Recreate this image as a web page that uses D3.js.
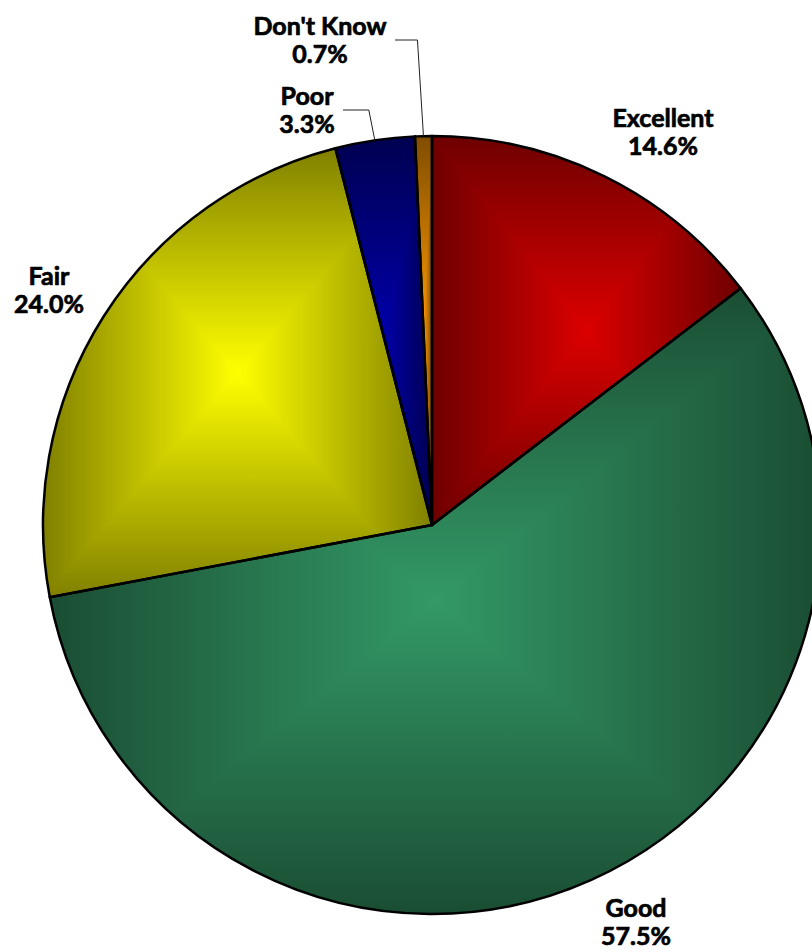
<!DOCTYPE html>
<html>
<head>
<meta charset="utf-8">
<script src="https://cdn.jsdelivr.net/npm/d3@7"></script>
<style>
  html, body { margin: 0; padding: 0; background: #ffffff; }
  svg { display: block; }
  .lbl { font-family: Lato, "Open Sans", sans-serif; font-weight: 700; font-size: 25px; fill: #000; stroke: #000; stroke-width: 0.7px; }
</style>
</head>
<body>
<svg id="chart" width="812" height="952"></svg>
<script>
// Survey answers and their shares (percent)
const categories = ["Excellent", "Good", "Fair", "Poor", "Don't Know"];
const shares = [14.6, 57.5, 24.0, 3.3, 0.7];

// Slice palette: bright centre colour and darker edge colour
const brightColors = ["#dc0000", "#339966", "#ffff00", "#0000a8", "#ff9900"];
const darkColors   = ["#6e0000", "#1a4d33", "#808000", "#000050", "#804d00"];

// Label placement (text centre x, first baseline y) and optional leader line
const labelLayout = {
  "Excellent":  { x: 663, y: 127 },
  "Good":       { x: 636, y: 917 },
  "Fair":       { x: 49,  y: 285 },
  "Poor":       { x: 307, y: 105, leader: { x: 343, y: 110 } },
  "Don't Know": { x: 320, y: 35,  leader: { x: 395, y: 40 } }
};

const W = 812, H = 952;
const cx = 432, cy = 525, R = 389;

const svg = d3.select("#chart");
const defs = svg.append("defs");
const root = svg.append("g").attr("transform", `translate(${cx},${cy})`);

const data = categories.map((c, i) => ({ name: c, value: shares[i], i }));
const pie = d3.pie().value(d => d.value).sort(null).startAngle(0).endAngle(2 * Math.PI);
const arcs = pie(data);
const arc = d3.arc().innerRadius(0).outerRadius(R);
const rimPoint = d3.arc().innerRadius(R).outerRadius(R);

// Bounding box of a pie slice (relative to the centre)
function sliceBox(a0, a1) {
  const pts = [[0, 0]];
  const p = a => [R * Math.sin(a), -R * Math.cos(a)];
  pts.push(p(a0), p(a1));
  for (let k = 0; k <= 4; k++) {
    const a = k * Math.PI / 2;
    if (a > a0 && a < a1) pts.push(p(a));
  }
  const xs = pts.map(q => q[0]), ys = pts.map(q => q[1]);
  return { x0: d3.min(xs), x1: d3.max(xs), y0: d3.min(ys), y1: d3.max(ys) };
}

function linGrad(id, x1, y1, x2, y2, c0, c1) {
  const g = defs.append("linearGradient").attr("id", id)
    .attr("gradientUnits", "userSpaceOnUse")
    .attr("x1", x1).attr("y1", y1).attr("x2", x2).attr("y2", y2);
  g.append("stop").attr("offset", 0).attr("stop-color", c0);
  g.append("stop").attr("offset", 1).attr("stop-color", c1);
}

// Each slice gets a rectangular "from centre" shading across its bounding box
arcs.forEach((a, i) => {
  const b = sliceBox(a.startAngle, a.endAngle);
  const mx = (b.x0 + b.x1) / 2, my = (b.y0 + b.y1) / 2;
  const dark = darkColors[i], bright = brightColors[i];

  const clipId = `clip${i}`;
  defs.append("clipPath").attr("id", clipId)
    .append("path").attr("d", arc(a));

  const hId = `h${i}`, tId = `t${i}`, bId = `b${i}`;
  const hg = defs.append("linearGradient").attr("id", hId)
    .attr("gradientUnits", "userSpaceOnUse")
    .attr("x1", b.x0).attr("y1", 0).attr("x2", b.x1).attr("y2", 0);
  hg.append("stop").attr("offset", 0).attr("stop-color", dark);
  hg.append("stop").attr("offset", 0.5).attr("stop-color", bright);
  hg.append("stop").attr("offset", 1).attr("stop-color", dark);
  linGrad(tId, 0, b.y0, 0, my, dark, bright);
  linGrad(bId, 0, b.y1, 0, my, dark, bright);

  const g = root.append("g").attr("clip-path", `url(#${clipId})`);
  g.append("rect")
    .attr("x", b.x0 - 1).attr("y", b.y0 - 1)
    .attr("width", b.x1 - b.x0 + 2).attr("height", b.y1 - b.y0 + 2)
    .attr("fill", `url(#${hId})`);
  g.append("path")
    .attr("d", `M${b.x0},${b.y0}L${b.x1},${b.y0}L${mx},${my}Z`)
    .attr("fill", `url(#${tId})`);
  g.append("path")
    .attr("d", `M${b.x0},${b.y1}L${b.x1},${b.y1}L${mx},${my}Z`)
    .attr("fill", `url(#${bId})`);
});

// Slice outlines
root.selectAll("path.slice")
  .data(arcs)
  .join("path")
  .attr("class", "slice")
  .attr("d", arc)
  .attr("fill", "none")
  .attr("stroke", "#000")
  .attr("stroke-width", 2.5)
  .attr("stroke-linejoin", "round");

// Leader lines for the narrow slices
arcs.forEach(a => {
  const L = labelLayout[a.data.name];
  if (!L.leader) return;
  const [ax, ay] = rimPoint.centroid(a);
  const px = ax + cx, py = ay + cy;
  svg.append("polyline")
    .attr("points", `${L.leader.x},${L.leader.y} ${px - 6},${L.leader.y} ${px},${py}`)
    .attr("fill", "none")
    .attr("stroke", "#222")
    .attr("stroke-width", 1);
});

// Category and percentage labels
arcs.forEach(a => {
  const L = labelLayout[a.data.name];
  const t = svg.append("text").attr("class", "lbl").attr("text-anchor", "middle");
  t.append("tspan").attr("x", L.x).attr("y", L.y).text(a.data.name);
  t.append("tspan").attr("x", L.x).attr("y", L.y + 28).text(`${a.data.value.toFixed(1)}%`);
});
</script>
</body>
</html>
